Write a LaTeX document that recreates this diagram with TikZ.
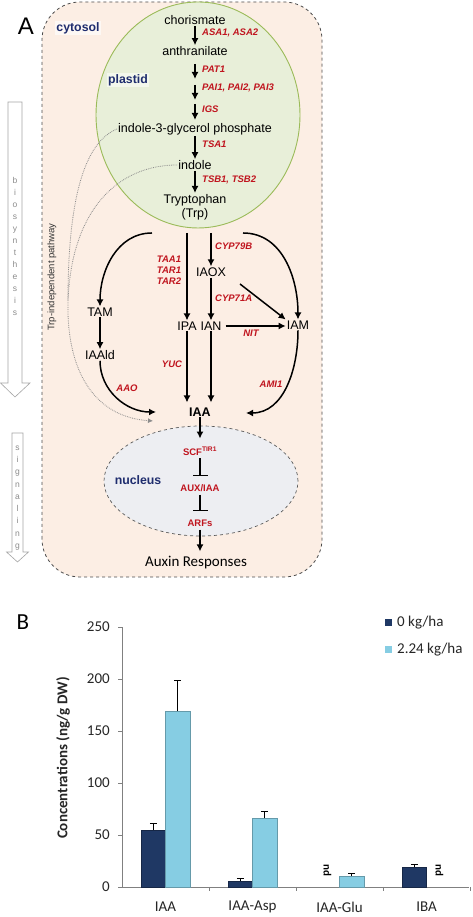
\documentclass[tikz,border=0pt]{standalone}
\usepackage{fontspec}
\setmainfont{Liberation Sans}
\newfontfamily\calib{Carlito}
\usetikzlibrary{arrows.meta}
\definecolor{cytofill}{HTML}{FCEEE4}
\definecolor{plastfill}{HTML}{E8EFD9}
\definecolor{plastline}{HTML}{9BBB59}
\definecolor{nucfill}{HTML}{EDEEF2}
\definecolor{navy}{HTML}{1F2D6E}
\definecolor{genered}{HTML}{C0141E}
\definecolor{bardark}{HTML}{1F3864}
\definecolor{barlight}{HTML}{86CDE3}
\definecolor{sidegray}{HTML}{A6A6A6}
\tikzset{
  cmpd/.style={inner sep=1pt, font=\fontsize{12.5}{14}\selectfont},
  gene/.style={inner sep=0pt, text=genered, font=\fontsize{9.5}{11}\selectfont\bfseries\itshape},
  nucl/.style={inner sep=3pt, text=genered, font=\fontsize{9.5}{11}\selectfont\bfseries},
  comp/.style={inner sep=1pt, text=navy, font=\fontsize{12.3}{14}\selectfont\bfseries},
  rxn/.style={line width=1.5pt, -{Latex[length=7pt,width=7pt]}},
  blockd/.style={line width=1.5pt, -{Bar[width=15pt,line width=1.5pt]}, shorten >=5pt},
  trpind/.style={densely dotted, draw=black!45, line width=.8pt},
  sidearrow/.style={draw=sidegray, fill=white, line width=.6pt},
  sidetext/.style={inner sep=0pt, text=black!45, text height=1.5ex, text depth=.25ex, font=\fontsize{8.5}{10}\selectfont},
  chart/.style={inner sep=0pt, text=black!85, font=\calib\fontsize{15}{17}\selectfont},
  darkbar/.style={fill=bardark, draw=bardark!70!black, line width=.4pt},
  lightbar/.style={fill=barlight, draw=barlight!75!black, line width=.4pt},
  errbar/.style={line width=.8pt}
}
\begin{document}
\begin{tikzpicture}[x=1pt,y=1pt]
\fill[white] (0,0) rectangle (472,917);
\useasboundingbox (0,0) rectangle (472,917);

%compartments
\draw[dashed, fill=cytofill, draw=black!70, line width=.8pt, rounded corners=38pt] (42,340) rectangle (322,915);
\draw[fill=plastfill, draw=plastline, line width=.9pt] (198,802) ellipse (102 and 113);
\draw[dashed, fill=nucfill, draw=black!65, line width=.7pt] (201,436) ellipse (97 and 55);
\node[font=\fontsize{24}{26}\selectfont] (labA) at (26,891) {A};
\node[comp, fill=white, fill opacity=.6, text opacity=1] (cyto) at (78,889) {cytosol};
\node[comp, fill=white, fill opacity=.5, text opacity=1] (plast) at (128,837) {plastid};
\node[comp] (nucl) at (138,437) {nucleus};

%plastid steps
\node[cmpd] (chor) at (195,897) {chorismate};
\node[cmpd] (anth) at (195,866) {anthranilate};
\node[cmpd] (igp) at (195,788) {indole-3-glycerol phosphate};
\node[cmpd] (indole) at (195,752) {indole};
\node[cmpd, align=center] (trp) at (195,710) {Tryptophan\\(Trp)};
\draw[rxn] (chor) -- (anth);
\foreach \n/\ya/\yb in {1/853/838, 2/832/817, 3/813/797} {
  \coordinate (st\n a) at (195,\ya);
  \coordinate (st\n b) at (195,\yb);
  \draw[rxn] (st\n a) -- (st\n b);
}
\draw[rxn] (igp) -- (indole);
\draw[rxn] (indole) -- (trp);
\foreach \n/\y/\t in {asa/884/{ASA1, ASA2}, pat/848/PAT1, pai/829/{PAI1, PAI2, PAI3}, igs/808/IGS, tsa/773/TSA1, tsb/737/{TSB1, TSB2}}
  \node[gene, anchor=west] (\n) at (202,\y) {\t};

%tryptophan-dependent routes
\coordinate (tr1) at (152,684);
\coordinate (tr2) at (187,684);
\coordinate (tr3) at (211,684);
\coordinate (tr4) at (243,684);
\coordinate (oxs) at (240,633);
\coordinate (iaaL) at (156,505);
\coordinate (iaaR) at (246,504);
\node[cmpd] (tam) at (100,605) {TAM};
\node[cmpd] (iaald) at (100,562) {IAAld};
\node[cmpd] (iaox) at (211,645) {IAOX};
\node[cmpd] (ipa) at (187,591) {IPA};
\node[cmpd] (ian) at (211,591) {IAN};
\node[cmpd] (iam) at (298,592) {IAM};
\node[cmpd, font=\fontsize{12.5}{14}\selectfont\bfseries] (iaa) at (200,505) {IAA};
\draw[rxn] (tr1) to[out=180,in=90] (tam);
\draw[rxn] (tr2) -- (ipa);
\draw[rxn] (tr3) -- (iaox);
\draw[rxn] (tr4) to[out=0,in=90] (iam);
\draw[rxn] (tam) -- (iaald);
\draw[rxn] (iaald) to[out=-90,in=180] (iaaL);
\draw[rxn] (iaox) -- (ian);
\draw[rxn] (oxs) -- (iam.north west);
\draw[rxn, shorten <=3pt] (ian) -- (ian -| iam.west);
\draw[rxn, shorten >=4pt] (ipa) -- (ipa |- iaa.north);
\draw[rxn, shorten >=4pt] (ian) -- (ian |- iaa.north);
\draw[rxn] (iam) to[out=-90,in=0] (iaaR);
\node[gene, align=center] (taa) at (169,647) {TAA1\\TAR1\\TAR2};
\node[gene, anchor=west] (cyp79) at (215,671) {CYP79B};
\node[gene, anchor=west] (cyp71) at (215,619) {CYP71A};
\node[gene] (nit) at (251,584) {NIT};
\node[gene] (yuc) at (172,553) {YUC};
\node[gene] (aao) at (127,529) {AAO};
\node[gene] (ami) at (271,533) {AMI1};

%Trp-independent
\coordinate (merge) at (68,617);
\coordinate (tipL) at (153,496);
\draw[trpind] (igp.west) .. controls (85,775) and (68,720) .. (merge);
\draw[trpind] (indole.west) .. controls (120,752) and (72,710) .. (merge);
\draw[trpind, -{Latex[length=5pt,width=5pt]}] (merge) .. controls (66,545) and (95,500) .. (tipL);
\node[rotate=90, text=black!80, font=\fontsize{9.5}{11}\selectfont] (indlab) at (52,640) {Trp-independent pathway};

%signaling
\node[nucl] (scf) at (200,466) {SCF\textsuperscript{TIR1}};
\node[nucl] (aux) at (200,429) {AUX/IAA};
\node[nucl] (arfs) at (200,394) {ARFs};
\node[inner sep=3pt, font=\calib\fontsize{15}{17}\selectfont] (resp) at (196,354) {Auxin Responses};
\draw[rxn, shorten >=5pt] (iaa) -- (scf);
\draw[blockd] (scf) -- (aux);
\draw[blockd] (aux) -- (arfs);
\draw[rxn, shorten >=2pt] (arfs) -- (resp.north -| arfs);

%side arrows
\draw[sidearrow] (8,815) -- (22,815) -- (22,534) -- (30,534) -- (15,520) -- (0.5,534) -- (8,534) -- cycle;
\foreach \l [count=\k] in {b,i,o,s,y,n,t,h,e,s,i,s}
  \node[sidetext] (bio\k) at (15,{749-12*\k}) {\l};
\draw[sidearrow] (12,484) -- (23,484) -- (23,365) -- (28.5,365) -- (17.5,355) -- (6.5,365) -- (12,365) -- cycle;
\foreach \l [count=\k] in {s,i,g,n,a,l,i,n,g}
  \node[sidetext] (sig\k) at (17.5,{482.25-12.25*\k}) {\l};

%panel B
\node[font=\calib\fontsize{23}{25}\selectfont] (labB) at (23,295) {B};
\draw[draw=black!50, line width=.8pt] (122,30) -- (122,290);
\draw[draw=black!50, line width=.8pt] (122,30) -- (469,30);
\foreach \v in {0,50,...,250} {
  \draw[draw=black!50, line width=.8pt] (122,{30+1.04*\v}) -- ++(-4,0);
  \node[chart, anchor=east] (yt\v) at (110,{30+1.04*\v}) {\v};
}
\foreach \i/\cat in {0/IAA, 1/IAA-Asp, 2/IAA-Glu, 3/IBA} {
  \draw[draw=black!50, line width=.8pt] ({122+87*(\i+1)},30) -- ++(0,-4);
  \node[chart] (cat\i) at ({165.5+87*\i},10) {\cat};
}
\foreach \i/\v/\e in {0/55/61.5, 1/6/8, 3/19/22} {
  \draw[darkbar] ({141+87*\i},30) rectangle ({165.5+87*\i},{30+1.04*\v});
  \draw[errbar] ({153.25+87*\i},{30+1.04*\v}) -- ({153.25+87*\i},{30+1.04*\e}) ++(-3.5,0) -- ++(7,0);
}
\foreach \i/\v/\e in {0/169/199, 1/66/73, 2/10.5/13.5} {
  \draw[lightbar] ({165.5+87*\i},30) rectangle ({190+87*\i},{30+1.04*\v});
  \draw[errbar] ({177.75+87*\i},{30+1.04*\v}) -- ({177.75+87*\i},{30+1.04*\e}) ++(-3.5,0) -- ++(7,0);
}
\node[rotate=-90, font=\calib\bfseries\fontsize{11}{12}\selectfont] (nd1) at (327.5,47) {nd};
\node[rotate=-90, font=\calib\bfseries\fontsize{11}{12}\selectfont] (nd2) at (439.5,47) {nd};
\node[rotate=90, text=black!85, font=\calib\bfseries\fontsize{15}{17}\selectfont] (ylab) at (63,159) {Concentrations (ng/g DW)};

%legend
\fill[bardark] (385,291) rectangle (391.5,297.5);
\node[chart, anchor=west] (leg1) at (397,294) {0 kg/ha};
\fill[barlight] (385,264) rectangle (391.5,270.5);
\node[chart, anchor=west] (leg2) at (397,267) {2.24 kg/ha};
\end{tikzpicture}
\end{document}
